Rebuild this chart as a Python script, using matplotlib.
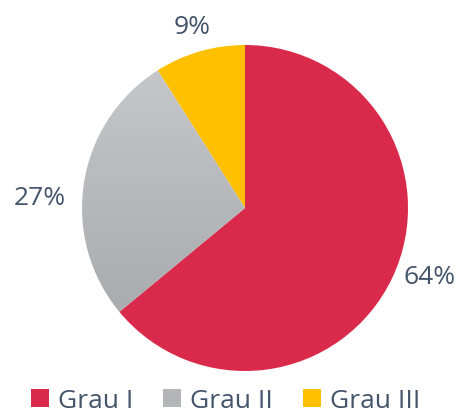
import numpy as np
import matplotlib
matplotlib.use("Agg")
import matplotlib.pyplot as plt
from matplotlib.colors import LinearSegmentedColormap
from matplotlib.patches import Rectangle

categorias = ["Grau I", "Grau II", "Grau III"]
valores = [64, 27, 9]
cores = ["#DA2A4C", "#BDBEC1", "#FFC000"]
rotulos = ["64%", "27%", "9%"]

cor_texto = "#44546A"
plt.rcParams["font.family"] = ["Open Sans", "DejaVu Sans"]

W, H = 459, 408
fig = plt.figure(figsize=(W / 100, H / 100), dpi=100)

# pie center (245, 208) px, radius 163 px
cx, cy, r = 245, 208, 163
ax = fig.add_axes([(cx - r) / W, (H - cy - r) / H, 2 * r / W, 2 * r / H])
fatias, _ = ax.pie(valores, colors=cores, startangle=90, counterclock=False,
                   radius=1, wedgeprops=dict(linewidth=0))
ax.set_xlim(-1, 1)
ax.set_ylim(-1, 1)
ax.set_aspect("equal")
ax.axis("off")

# vertical gradient on the grey slice
grad = LinearSegmentedColormap.from_list("g", ["#A4A5A9", "#C8C9CC"])
img = ax.imshow(np.linspace(0, 1, 256).reshape(-1, 1), cmap=grad, origin="lower",
                extent=[-1, 1, -1, 1], aspect="auto", zorder=fatias[1].get_zorder())
img.set_clip_path(fatias[1])
fatias[1].set_facecolor("none")

# labels (positions in px)
pos_rotulos = [(430, 277), (40, 198), (192, 27)]
for txt, (px, py) in zip(rotulos, pos_rotulos):
    fig.text(px / W, 1 - py / H, txt, ha="center", va="center",
             fontsize=19, color=cor_texto)

# legend at bottom, cropped like the original
x_quad = [31, 163, 303]
for nome, cor, xq in zip(categorias, ["#DA2A4C", "#B4B5B8", "#FFC000"], x_quad):
    fig.patches.append(Rectangle((xq / W, (H - 407) / H), 18 / W, 18 / H,
                                 transform=fig.transFigure, facecolor=cor,
                                 edgecolor="none"))
    fig.text((xq + 27) / W, 0.0, nome, ha="left", va="baseline",
             fontsize=19, color=cor_texto)

fig.savefig("out.png", dpi=100)
